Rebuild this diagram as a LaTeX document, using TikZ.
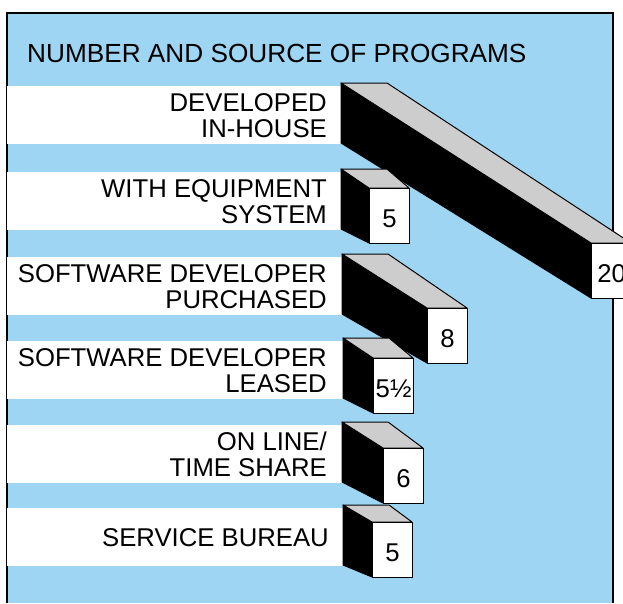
\documentclass[tikz,border=0pt]{standalone}
\usepackage{fontspec}
\setmainfont{Liberation Sans}
\definecolor{skyb}{RGB}{158,213,243}
\definecolor{topgray}{RGB}{205,205,205}
\newcommand\chartbar[6]{%
  \fill[white] (7,#3+3) rectangle (#2,#3+61);
  \draw[blackface] (#2,#3) -- (#4,#5) -- (#4,#5+55) -- (#2,#3+60) -- cycle;
  \draw[grayface] (#2,#3) -- (#2+46,#3) -- (#4+40,#5) -- (#4,#5) -- cycle;
  \node[numbox] (#1) at (#4,#5) {#6};
}
\begin{document}
\begin{tikzpicture}[x=1pt,y=-1pt,
  lbl/.style={inner sep=0pt, anchor=base east, font=\fontsize{25.7}{26}\selectfont},
  numbox/.style={draw=black, line width=1.2pt, fill=white, minimum width=40pt,
    minimum height=55pt, inner sep=0pt, anchor=north west, text height=22pt,
    text depth=0pt, font=\fontsize{25.7}{26}\selectfont},
  blackface/.style={fill=black, draw=black, line width=1pt, line join=round},
  grayface/.style={fill=topgray, draw=black, line width=1pt, line join=round}]
\useasboundingbox (0,0) rectangle (623,603);
\clip (0,0) rectangle (623,603);
\fill[white] (0,0) rectangle (623,603);
\fill[skyb] (7,13) rectangle (613,603);
\draw[line width=1.2pt] (7,603) -- (7,13) -- (613,13) -- (613,603);
\node[anchor=base west, inner sep=0pt, font=\fontsize{26.2}{27}\selectfont] (title) at (27,62) {NUMBER AND SOURCE OF PROGRAMS};
% bars
\chartbar{n1}{341}{83}{591}{243}{20}
\chartbar{n2}{341}{169}{369}{188}{5}
\chartbar{n3}{342}{254}{427}{308}{8}
\chartbar{n4}{343}{338}{373}{358}{5½}
\chartbar{n5}{342}{422}{383}{448}{6}
\chartbar{n6}{343}{505}{372}{522}{5}
% labels
\node[lbl] (l1a) at (327,111) {DEVELOPED};
\node[lbl] (l1b) at (327,137) {IN-HOUSE};
\node[lbl] (l2a) at (327,197) {WITH EQUIPMENT};
\node[lbl] (l2b) at (327,223) {SYSTEM};
\node[lbl] (l3a) at (327,282) {SOFTWARE DEVELOPER};
\node[lbl] (l3b) at (327,308) {PURCHASED};
\node[lbl] (l4a) at (327,366) {SOFTWARE DEVELOPER};
\node[lbl] (l4b) at (327,392) {LEASED};
\node[lbl] (l5a) at (327,450) {ON LINE/};
\node[lbl] (l5b) at (327,476) {TIME SHARE};
\node[lbl] (l6a) at (329,546) {SERVICE BUREAU};
\end{tikzpicture}
\end{document}
